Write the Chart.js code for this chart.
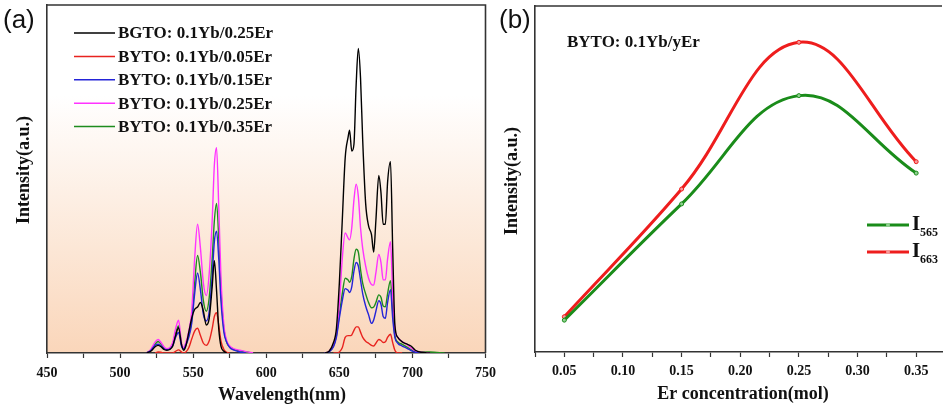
<!DOCTYPE html>
<html>
<head>
<meta charset="utf-8">
<script src="https://cdn.jsdelivr.net/npm/chart.js@4.4.0/dist/chart.umd.min.js"></script>
<style>
  html, body { margin: 0; padding: 0; background: #fff; }
  #wrap { position: relative; width: 947px; height: 410px; overflow: hidden; }
  #boxA { position: absolute; left: 0; top: 0; width: 503px; height: 410px; }
  #boxB { position: absolute; left: 490px; top: 0; width: 457px; height: 410px; }
</style>
</head>
<body>
<div id="wrap">
  <div id="boxA"><canvas id="spectraChart"></canvas></div>
  <div id="boxB"><canvas id="concChart"></canvas></div>
</div>
<script>
// ---- panel (a): emission spectra, wavelength in nm ----
const wavelengths = [
  518, 521, 524, 526, 528, 530, 532, 534, 536, 538, 540, 542, 543.5, 545, 547, 549, 551, 553, 555, 557,
  559, 561, 563, 564.5, 566, 567.5, 569, 571, 573, 575, 578, 582, 586, 591,
  610,
  640, 643, 646, 648, 650, 652, 654, 656, 657, 658.5, 660, 661.5, 663, 664.5, 666, 668, 670, 672, 673.5, 675,
  677, 678.5, 680, 681.5, 683, 685, 686.5, 688, 690, 693, 696, 699, 702, 706, 712, 722
];
const bgto025 = [
  0, 0.5, 1.8, 2.2, 1.8, 1.0, 0.8, 1.0, 2.0, 5.0, 7.3, 2.5, 0.8, 2.0, 6.0, 10.0, 12.5, 13.2, 14.5, 12.0,
  8.0, 10.0, 19.0, 26.5, 18.0, 7.0, 2.0, 0.5, 0, null, null, null, null, null,
  null,
  0, 0.5, 3, 7, 20, 38, 56, 62, 64, 58, 60, 77, 87.5, 79, 61, 43, 36.5, 34, 29, 38,
  51, 46, 37, 37, 49, 55, 30, 8, 4.5, 3.2, 2.6, 2.0, 0.8, 0.2, 0, null
];
const byto005 = [
  null, null, 0, 0.3, 0.2, 0, 0, 0, 0, 0.5, 0.9, 0.3, 0, 0.3, 1.5, 4, 6.3, 7.1, 5, 2.8,
  2.2, 3.5, 7, 10.5, 11.6, 8, 3.5, 1.0, 0.2, 0, null, null, null, null,
  null,
  null, null, 0, 0, 0.3, 1.5, 4.5, 5.0, 5.0, 5.2, 6.5, 7.5, 7.5, 6, 4.5, 3.4, 2.8, 2.2, 2.0, 2.8,
  3.9, 3.6, 3.0, 3.2, 4.5, 5.4, 3, 0.8, 0, 0, null, null, null, null, null, null
];
const byto015 = [
  0, 0.7, 2.2, 2.5, 2.0, 1.2, 0.9, 1.1, 2.0, 4.5, 5.9, 2.0, 1.1, 2.3, 4.5, 8.5, 17, 23, 18, 11,
  9.2, 12, 22, 32, 35, 27, 15, 6, 3, 1.6, 0.8, 0.3, 0, null,
  null,
  0, 0.3, 1.8, 4.5, 10, 15, 18.5, 18, 17.4, 19, 23.5, 26, 25, 21, 17, 13.5, 11, 8.5, 9.5, 12,
  15, 14, 10.5, 10, 14.5, 18.2, 10, 4.5, 2.8, 2.0, 1.4, 0.7, 0.2, 0, null, null
];
const byto025 = [
  0, 1.0, 3.2, 3.9, 3.0, 1.8, 1.2, 1.5, 3.0, 7.0, 9.4, 3.0, 1.6, 3.0, 6.3, 12, 27, 37, 30, 20,
  16.5, 23, 38, 54, 59, 42, 22, 8, 3.5, 2.0, 1.2, 0.8, 0.4, 0,
  null,
  0, 0.5, 2.5, 5.5, 14, 27, 34.5, 33, 32.5, 36, 44, 48.5, 45, 36, 30, 25, 21.5, 19.7, 19.5, 23,
  28.3, 26, 21, 21, 27, 32, 17, 7, 4.5, 3.3, 2.5, 1.5, 0.6, 0.2, 0, null
];
const byto035 = [
  0, 0.8, 2.6, 3.3, 2.6, 1.5, 1.0, 1.3, 2.5, 5.8, 7.8, 2.5, 1.3, 2.6, 5.2, 9.5, 20, 28, 23, 15,
  12, 16, 27, 38, 43, 33, 18, 7, 3, 1.8, 1.0, 0.6, 0.3, 0,
  null,
  0, 0.4, 2, 5, 11, 17, 21.5, 21, 20.3, 22, 27, 29.8, 29, 24, 20, 17, 14.5, 13, 13.2, 14.5,
  16.7, 16, 13.5, 13.3, 17, 20.8, 12, 5, 3.2, 2.5, 1.8, 1.0, 0.4, 0.3, 0.3, 0
];
const spectraLabels = [
  "BGTO: 0.1Yb/0.25Er",
  "BYTO: 0.1Yb/0.05Er",
  "BYTO: 0.1Yb/0.15Er",
  "BYTO: 0.1Yb/0.25Er",
  "BYTO: 0.1Yb/0.35Er"
];
const spectraColors = ["#000000", "#e8231f", "#2424d8", "#ff33ff", "#1e8c1e"];

// ---- panel (b): integrated intensity vs Er content ----
const erConc = [0.05, 0.15, 0.25, 0.35];
const i565 = [9.2, 42.8, 74.1, 51.7];
const i663 = [10.2, 47.1, 89.5, 55.0];

const serif = "'Liberation Serif', 'Times New Roman', serif";
const axisColor = "#333";

function toPoints(xs, ys) {
  return xs.map((x, i) => ({ x: x, y: ys[i] }));
}

const spectraSeries = [bgto025, byto005, byto015, byto025, byto035];

const spectraDecor = {
  id: "spectraDecor",
  beforeDraw(chart) {
    const { ctx, chartArea: a } = chart;
    const g = ctx.createLinearGradient(0, a.top, 0, a.bottom);
    g.addColorStop(0, "#ffffff");
    g.addColorStop(0.26, "#ffffff");
    g.addColorStop(1, "#fad6ba");
    ctx.save();
    ctx.fillStyle = g;
    ctx.fillRect(a.left, a.top, a.right - a.left, a.bottom - a.top);
    ctx.restore();
  },
  afterDraw(chart) {
    const { ctx, chartArea: a } = chart;
    ctx.save();
    // top and right frame
    ctx.strokeStyle = axisColor;
    ctx.lineWidth = 1.6;
    ctx.beginPath();
    ctx.moveTo(a.left, a.top);
    ctx.lineTo(a.right, a.top);
    ctx.lineTo(a.right, a.bottom);
    ctx.stroke();

    // legend
    ctx.font = "bold 17px " + serif;
    ctx.textBaseline = "middle";
    ctx.textAlign = "left";
    chart.data.datasets.forEach((ds, i) => {
      const y = 33 + i * 23.4;
      ctx.strokeStyle = ds.borderColor;
      ctx.lineWidth = 1.5;
      ctx.beginPath();
      ctx.moveTo(74, y);
      ctx.lineTo(115, y);
      ctx.stroke();
      ctx.fillStyle = "#111";
      ctx.fillText(ds.label, 118, y + 1);
    });

    // axis titles
    ctx.fillStyle = "#111";
    ctx.font = "bold 18px " + serif;
    ctx.textAlign = "center";
    ctx.fillText("Wavelength(nm)", 282, 395);
    ctx.save();
    ctx.translate(24, 170);
    ctx.rotate(-Math.PI / 2);
    ctx.fillText("Intensity(a.u.)", 0, 0);
    ctx.restore();

    // panel label
    ctx.font = "26px 'Liberation Sans', Arial, sans-serif";
    ctx.textAlign = "left";
    ctx.fillText("(a)", 3, 21);
    ctx.restore();
  }
};

new Chart(document.getElementById("spectraChart"), {
  type: "line",
  data: {
    datasets: spectraSeries.map((s, i) => ({
      label: spectraLabels[i],
      data: toPoints(wavelengths, s),
      borderColor: spectraColors[i],
      borderWidth: 1.4,
      pointRadius: 0,
      cubicInterpolationMode: "monotone",
      spanGaps: false
    }))
  },
  options: {
    responsive: true,
    maintainAspectRatio: false,
    animation: false,
    layout: { padding: { left: 0, right: 0, top: 5, bottom: 0 } },
    plugins: { legend: { display: false }, tooltip: { enabled: false } },
    scales: {
      x: {
        type: "linear",
        min: 450,
        max: 750,
        afterFit: (s) => { s.height = 57; },
        ticks: {
          stepSize: 25,
          autoSkip: false,
          maxRotation: 0,
          padding: 7,
          color: "#111",
          font: { family: serif, size: 14, weight: "bold" },
          callback: (v) => (v % 50 === 0 ? String(v) : "")
        },
        grid: { drawOnChartArea: false, tickLength: 5, tickColor: axisColor, tickWidth: 1.2 },
        border: { color: axisColor, width: 1.6 }
      },
      y: {
        min: 0,
        max: 100,
        afterFit: (s) => { s.width = 47; },
        ticks: { display: false },
        grid: { display: false },
        border: { color: axisColor, width: 1.6 }
      }
    }
  },
  plugins: [spectraDecor]
});

const concDecor = {
  id: "concDecor",
  afterDraw(chart) {
    const { ctx, chartArea: a } = chart;
    ctx.save();
    ctx.strokeStyle = axisColor;
    ctx.lineWidth = 1.6;
    ctx.beginPath();
    ctx.moveTo(a.left, a.top);
    ctx.lineTo(a.right, a.top);
    ctx.stroke();

    ctx.fillStyle = "#111";
    ctx.textBaseline = "middle";
    ctx.font = "bold 17px " + serif;
    ctx.textAlign = "left";
    ctx.fillText("BYTO: 0.1Yb/yEr", 77, 43);

    // legend with subscripts
    const entries = [["565", 225], ["663", 252]];
    chart.data.datasets.forEach((ds, i) => {
      const y = entries[i][1];
      ctx.strokeStyle = ds.borderColor;
      ctx.lineWidth = 3;
      ctx.beginPath();
      ctx.moveTo(377, y);
      ctx.lineTo(419, y);
      ctx.stroke();
      ctx.fillStyle = ds.pointBackgroundColor;
      ctx.beginPath();
      ctx.arc(398, y, 2, 0, Math.PI * 2);
      ctx.fill();
      ctx.fillStyle = "#111";
      ctx.font = "bold 21px " + serif;
      ctx.fillText("I", 422, y);
      ctx.font = "bold 12px " + serif;
      ctx.fillText(entries[i][0], 430, y + 8);
    });

    ctx.font = "bold 18px " + serif;
    ctx.textAlign = "center";
    ctx.fillText("Er concentration(mol)", 253, 394);
    ctx.save();
    ctx.translate(22, 181);
    ctx.rotate(-Math.PI / 2);
    ctx.fillText("Intensity(a.u.)", 0, 0);
    ctx.restore();

    ctx.font = "26px 'Liberation Sans', Arial, sans-serif";
    ctx.textAlign = "left";
    ctx.fillText("(b)", 9, 21);
    ctx.restore();
  }
};

new Chart(document.getElementById("concChart"), {
  type: "line",
  data: {
    datasets: [
      {
        label: "I565",
        data: toPoints(erConc, i565),
        borderColor: "#1a8c1a",
        pointBackgroundColor: "#8fd08f",
        pointBorderColor: "#1a8c1a",
        borderWidth: 3,
        pointRadius: 2,
        pointBorderWidth: 1,
        tension: 0.4
      },
      {
        label: "I663",
        data: toPoints(erConc, i663),
        borderColor: "#ee1d1d",
        pointBackgroundColor: "#f59a9a",
        pointBorderColor: "#ee1d1d",
        borderWidth: 3,
        pointRadius: 2,
        pointBorderWidth: 1,
        tension: 0.4
      }
    ]
  },
  options: {
    responsive: true,
    maintainAspectRatio: false,
    animation: false,
    layout: { padding: { left: 0, right: 0, top: 6, bottom: 0 } },
    plugins: { legend: { display: false }, tooltip: { enabled: false } },
    scales: {
      x: {
        type: "linear",
        min: 0.025,
        max: 0.372,
        afterFit: (s) => { s.height = 58; },
        ticks: {
          stepSize: 0.025,
          includeBounds: false,
          autoSkip: false,
          maxRotation: 0,
          padding: 6,
          color: "#111",
          font: { family: serif, size: 14, weight: "bold" },
          callback: (v) => {
            const m = Math.round(v * 1000);
            return m % 50 === 0 ? v.toFixed(2) : "";
          }
        },
        grid: { drawOnChartArea: false, tickLength: 5, tickColor: axisColor, tickWidth: 1.2 },
        border: { color: axisColor, width: 1.6 }
      },
      y: {
        min: 0,
        max: 100,
        afterFit: (s) => { s.width = 45; },
        ticks: { display: false },
        grid: { display: false },
        border: { color: axisColor, width: 1.6 }
      }
    }
  },
  plugins: [concDecor]
});
</script>
</body>
</html>
